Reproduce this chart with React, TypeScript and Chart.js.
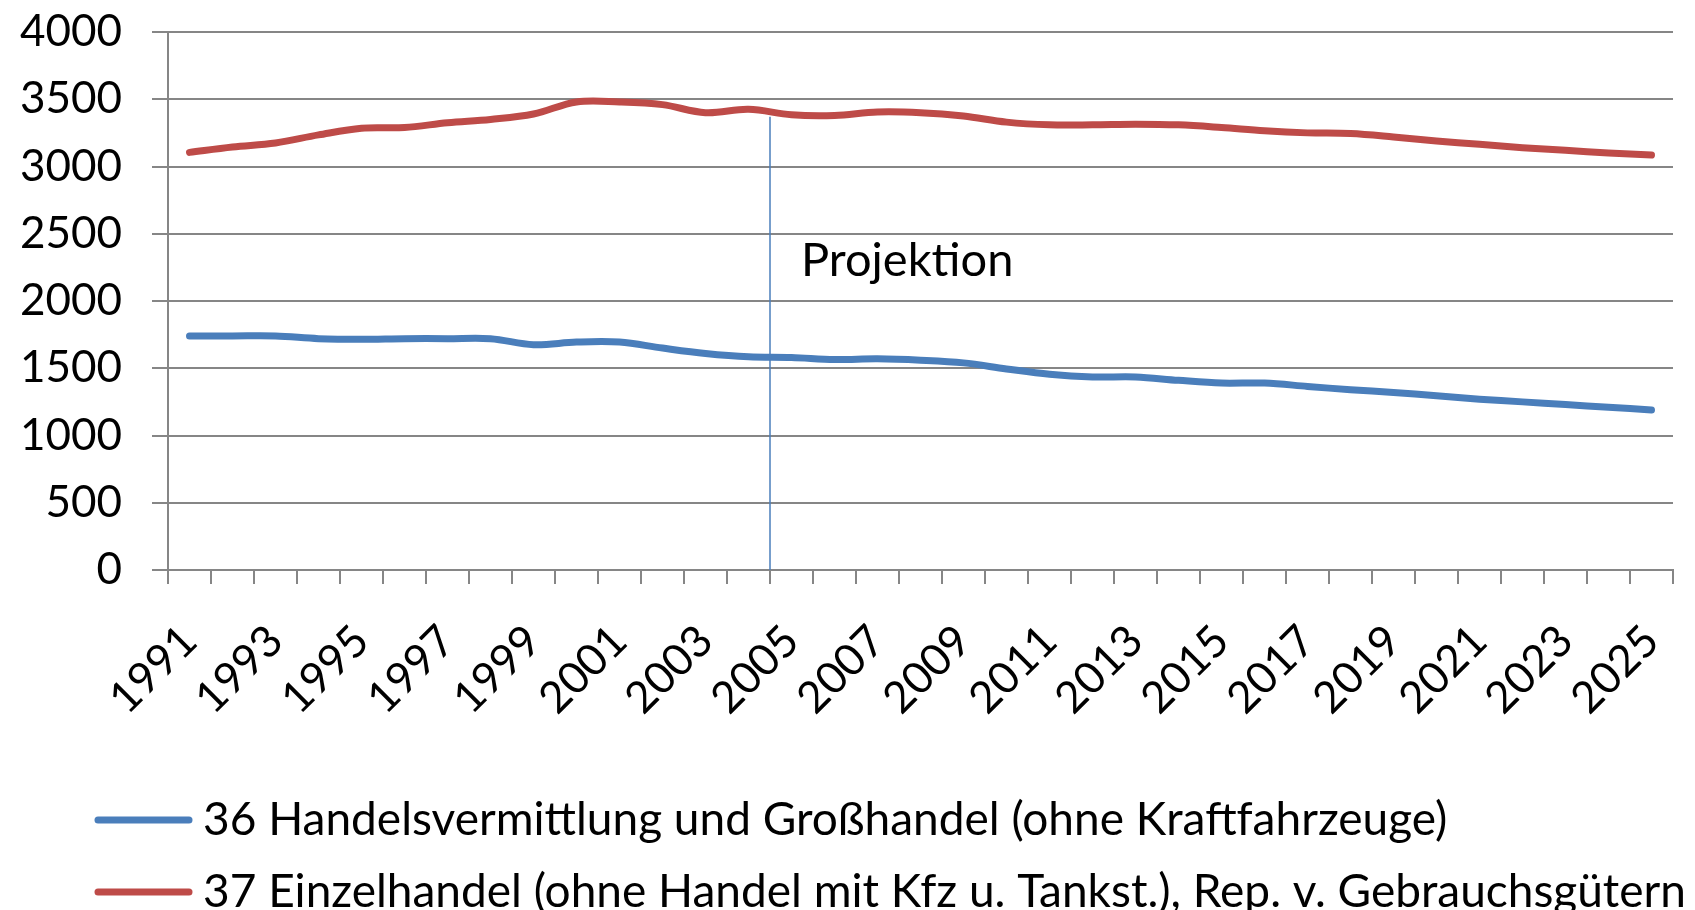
import React, { useEffect, useRef } from 'react';
import { Chart, registerables } from 'chart.js';

Chart.register(...registerables);

const years = [
  '1991', '1992', '1993', '1994', '1995', '1996', '1997', '1998', '1999', '2000',
  '2001', '2002', '2003', '2004', '2005', '2006', '2007', '2008', '2009', '2010',
  '2011', '2012', '2013', '2014', '2015', '2016', '2017', '2018', '2019', '2020',
  '2021', '2022', '2023', '2024', '2025',
];

const grosshandel = [
  1740, 1740, 1740, 1720, 1715, 1720, 1720, 1720, 1675, 1695,
  1695, 1650, 1610, 1585, 1580, 1565, 1570, 1560, 1540, 1495,
  1455, 1435, 1435, 1410, 1390, 1390, 1365, 1340, 1320, 1295,
  1270, 1250, 1230, 1210, 1190,
];

const einzelhandel = [
  3105, 3145, 3175, 3235, 3285, 3290, 3325, 3350, 3390, 3480,
  3480, 3460, 3400, 3425, 3385, 3380, 3405, 3400, 3375, 3330,
  3310, 3310, 3315, 3310, 3290, 3265, 3250, 3245, 3220, 3190,
  3165, 3140, 3120, 3100, 3085,
];

const seriesNames = [
  '36 Handelsvermittlung und Großhandel (ohne Kraftfahrzeuge)',
  '37 Einzelhandel (ohne Handel mit Kfz u. Tankst.), Rep. v. Gebrauchsgütern',
];
const seriesColors = ['#4a7ebb', '#be4b48'];

const yMin = 0;
const yMax = 4000;
const yStep = 500;

const projectionYear = '2005';
const projectionLabel = 'Projektion';
const projectionLineTop = 3370;
const projectionLabelValue = 2300;

const FONT = "Lato, 'Open Sans', sans-serif";

const projectionPlugin = {
  id: 'projection',
  beforeDatasetsDraw(chart: any) {
    const { ctx, scales } = chart;
    const x = scales.x;
    const y = scales.y;
    const idx = years.indexOf(projectionYear);
    const px = (x.getPixelForValue(idx - 1) + x.getPixelForValue(idx)) / 2;
    ctx.save();
    ctx.strokeStyle = '#4a7ebb';
    ctx.lineWidth = 1.5;
    ctx.beginPath();
    ctx.moveTo(px, y.getPixelForValue(yMin));
    ctx.lineTo(px, y.getPixelForValue(projectionLineTop));
    ctx.stroke();
    ctx.fillStyle = '#000';
    ctx.font = `47px ${FONT}`;
    ctx.textAlign = 'left';
    ctx.textBaseline = 'middle';
    ctx.fillText(projectionLabel, px + 31, y.getPixelForValue(projectionLabelValue));
    ctx.restore();
  },
};

const legendPlugin = {
  id: 'customLegend',
  afterDraw(chart: any) {
    const { ctx, chartArea } = chart;
    const rowOffsets = [250, 322];
    ctx.save();
    chart.data.datasets.forEach((ds: any, i: number) => {
      const cy = chartArea.bottom + rowOffsets[i];
      ctx.strokeStyle = ds.borderColor;
      ctx.lineWidth = 7;
      ctx.lineCap = 'round';
      ctx.beginPath();
      ctx.moveTo(98, cy);
      ctx.lineTo(189, cy);
      ctx.stroke();
      ctx.fillStyle = '#000';
      ctx.font = `46px ${FONT}`;
      ctx.textAlign = 'left';
      ctx.textBaseline = 'middle';
      ctx.fillText(ds.label, 203, cy);
    });
    ctx.restore();
  },
};

export default function App() {
  const canvasRef = useRef<HTMLCanvasElement | null>(null);

  useEffect(() => {
    if (!canvasRef.current) return;
    Chart.defaults.font.family = FONT;
    const chart = new Chart(canvasRef.current, {
      type: 'line',
      data: {
        labels: years,
        datasets: [
          {
            label: seriesNames[0],
            data: grosshandel,
            borderColor: seriesColors[0],
            backgroundColor: seriesColors[0],
            borderWidth: 7,
            pointRadius: 0,
            tension: 0.35,
            borderCapStyle: 'round',
            borderJoinStyle: 'round',
          },
          {
            label: seriesNames[1],
            data: einzelhandel,
            borderColor: seriesColors[1],
            backgroundColor: seriesColors[1],
            borderWidth: 7,
            pointRadius: 0,
            tension: 0.35,
            borderCapStyle: 'round',
            borderJoinStyle: 'round',
          },
        ],
      },
      options: {
        animation: false,
        responsive: true,
        maintainAspectRatio: false,
        layout: { padding: { left: 0, right: 22, top: 32, bottom: 190 } },
        plugins: {
          legend: { display: false },
          tooltip: { enabled: false },
        },
        scales: {
          x: {
            type: 'category',
            offset: true,
            grid: {
              offset: true,
              drawOnChartArea: false,
              drawTicks: true,
              tickLength: 14,
              color: '#868686',
              lineWidth: 2,
            },
            border: { color: '#868686', width: 2 },
            ticks: {
              autoSkip: false,
              minRotation: 45,
              maxRotation: 45,
              color: '#000',
              font: { size: 44 },
              padding: 31,
              callback: (_v: any, i: number) => (i % 2 === 0 ? years[i] : ''),
            },
            afterFit: (s: any) => {
              s.height = 150;
              s.paddingLeft = 0;
              s.paddingRight = 0;
            },
          },
          y: {
            min: yMin,
            max: yMax,
            grid: {
              color: '#868686',
              lineWidth: 2,
              tickLength: 16,
            },
            border: { color: '#868686', width: 2 },
            ticks: {
              stepSize: yStep,
              color: '#000',
              font: { size: 44 },
              padding: 30,
              callback: (v: any) => String(v),
            },
            afterFit: (s: any) => {
              s.width = 168;
              s.paddingTop = 0;
              s.paddingBottom = 0;
            },
          },
        },
      },
      plugins: [projectionPlugin, legendPlugin],
    });
    return () => chart.destroy();
  }, []);

  return (
    <div style={{ position: 'absolute', left: 0, top: 0, width: 1695, height: 910, background: '#fff' }}>
      <canvas ref={canvasRef} />
    </div>
  );
}
